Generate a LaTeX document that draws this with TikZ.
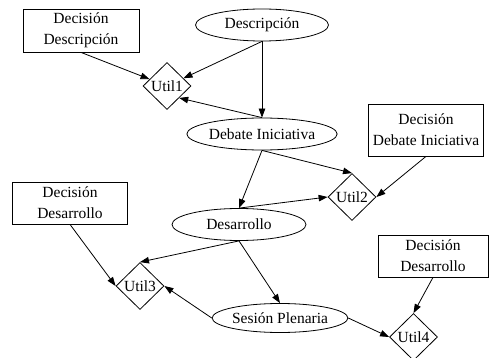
\documentclass[tikz,border=0pt]{standalone}
\usepackage{fontspec}
\setmainfont{Liberation Serif}
\usetikzlibrary{shapes.geometric,arrows.meta}
\begin{document}
\begin{tikzpicture}[x=1pt,y=-1pt,
  every node/.style={font=\fontsize{15.5}{21}\selectfont, line width=0.8pt, draw=black},
  dbox/.style={rectangle, minimum width=116pt, minimum height=43pt, inner sep=0pt, align=center},
  chance/.style={ellipse, minimum height=32pt, inner sep=0pt},
  util/.style={diamond, minimum width=48pt, minimum height=47pt, inner sep=0pt},
  arr/.style={line width=0.8pt, -{Triangle[length=9pt,width=6.5pt]}}]
\clip (0,0) rectangle (489,358);
\useasboundingbox (0,0) rectangle (489,358);
\fill[white] (0,0) rectangle (489,358);
\node[dbox] (dd) at (81,30.5) {Decisión\\Descripción};
\node[chance, minimum width=133pt] (desc) at (262,25) {Descripción};
\node[util] (u1) at (167,86) {Util1};
\node[chance, minimum width=131pt] (deb) at (262,134) {Debate Iniciativa};
\node[dbox, minimum width=115pt, minimum height=52pt] (ddi) at (426,130) {Decisión\\Debate Iniciativa};
\node[util] (u2) at (352,197) {Util2};
\node[chance, minimum width=134pt] (des) at (239,224.5) {Desarrollo};
\node[dbox, minimum width=115pt, minimum height=42pt] (ddl) at (70,203) {Decisión\\Desarrollo};
\node[util] (u3) at (140,286) {Util3};
\node[chance, minimum width=134pt, minimum height=29pt] (sp) at (280,318) {Sesión Plenaria};
\node[dbox, minimum width=110pt, minimum height=42pt] (ddr) at (433,256) {Decisión\\Desarrollo};
\node[util] (u4) at (413.5,337) {Util4};
\draw[arr] (dd.south) -- (u1);
\draw[arr] (desc.south) -- (u1);
\draw[arr] (desc.south) -- (deb.north);
\draw[arr] (deb.north) -- (u1.south east);
\draw[arr] (deb.south) -- (u2.north);
\draw[arr] (deb.south) -- (des.north);
\draw[arr] (ddi.south) -- (u2.east);
\draw[arr] (des.north) -- (u2.west);
\draw[arr] (des.south) -- (u3.north);
\draw[arr] (des.south) -- (sp.north);
\draw[arr] (ddl.south) -- (u3.west);
\draw[arr] (sp.west) -- (u3.east);
\draw[arr] (sp.east) -- (u4.west);
\draw[arr] (ddr.south) -- (u4.north);
\end{tikzpicture}
\end{document}
